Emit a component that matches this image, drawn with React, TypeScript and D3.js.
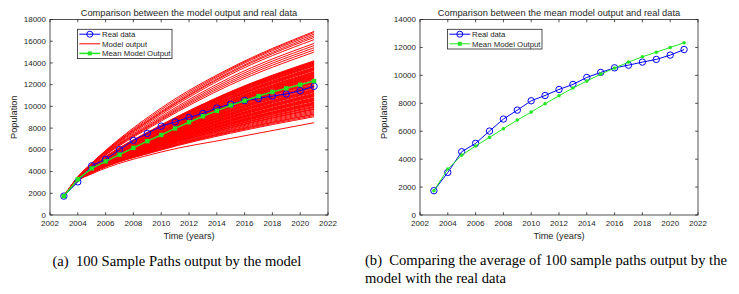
import * as d3 from "d3";

// yearly observations
const years = [2003, 2004, 2005, 2006, 2007, 2008, 2009, 2010, 2011, 2012, 2013, 2014, 2015, 2016, 2017, 2018, 2019, 2020, 2021];
const realData = [1741, 3050, 4530, 5130, 6010, 6870, 7510, 8180, 8560, 8990, 9350, 9850, 10210, 10540, 10730, 10950, 11140, 11450, 11850];
const meanModel = [1741, 3290, 4290, 4940, 5560, 6180, 6800, 7370, 7970, 8540, 9090, 9590, 10090, 10520, 10950, 11330, 11660, 12000, 12330];

// sample paths: value at 2003 is shared, rows give values at 2004, 2005, 2010, 2015, 2021
const sampleYears = [2003, 2004, 2005, 2010, 2015, 2021];
const sampleStart = 1741;
const samplePaths = [
  [3520, 4780, 9850, 13550, 16900],
  [3500, 4740, 9700, 13450, 16800],
  [3480, 4740, 9550, 13350, 16650],
  [3490, 4700, 9450, 13200, 16500],
  [3470, 4700, 9380, 13100, 16350],
  [3460, 4660, 9250, 12950, 16150],
  [3450, 4630, 9080, 12680, 15800],
  [3450, 4600, 8950, 12500, 15600],
  [3430, 4590, 8850, 12330, 15400],
  [3420, 4560, 8760, 12170, 15200],
  [3430, 4530, 8650, 12000, 15000],
  [3390, 4450, 8250, 11370, 14200],
  [3380, 4440, 8300, 11330, 14150],
  [3390, 4430, 8200, 11290, 14100],
  [3380, 4430, 8180, 11250, 14050],
  [3380, 4420, 8160, 11220, 14000],
  [3370, 4410, 8100, 11180, 13950],
  [3380, 4410, 8120, 11140, 13900],
  [3370, 4400, 8090, 11100, 13850],
  [3370, 4400, 8070, 11070, 13800],
  [3370, 4390, 8050, 11030, 13750],
  [3360, 4390, 8030, 10990, 13700],
  [3360, 4380, 7980, 10920, 13600],
  [3360, 4370, 7960, 10880, 13550],
  [3360, 4370, 7940, 10840, 13500],
  [3350, 4360, 7920, 10810, 13450],
  [3350, 4350, 7900, 10770, 13400],
  [3350, 4350, 7870, 10730, 13350],
  [3350, 4340, 7850, 10700, 13300],
  [3340, 4330, 7810, 10620, 13200],
  [3340, 4330, 7790, 10580, 13150],
  [3340, 4320, 7760, 10550, 13100],
  [3340, 4310, 7740, 10510, 13050],
  [3330, 4310, 7720, 10470, 13000],
  [3330, 4300, 7700, 10430, 12950],
  [3330, 4300, 7680, 10400, 12900],
  [3330, 4290, 7650, 10360, 12850],
  [3330, 4290, 7630, 10320, 12800],
  [3320, 4280, 7610, 10290, 12750],
  [3320, 4270, 7590, 10250, 12700],
  [3320, 4270, 7570, 10210, 12650],
  [3320, 4260, 7540, 10170, 12600],
  [3320, 4260, 7520, 10140, 12550],
  [3310, 4250, 7500, 10100, 12500],
  [3310, 4240, 7460, 10030, 12400],
  [3310, 4240, 7430, 9990, 12350],
  [3310, 4230, 7410, 9950, 12300],
  [3300, 4220, 7390, 9910, 12250],
  [3300, 4220, 7370, 9880, 12200],
  [3300, 4210, 7350, 9840, 12150],
  [3300, 4210, 7320, 9800, 12100],
  [3300, 4200, 7280, 9730, 12000],
  [3290, 4190, 7260, 9690, 11950],
  [3290, 4190, 7240, 9650, 11900],
  [3290, 4180, 7210, 9620, 11850],
  [3290, 4170, 7190, 9580, 11800],
  [3290, 4170, 7170, 9540, 11750],
  [3280, 4160, 7150, 9500, 11700],
  [3280, 4150, 7100, 9430, 11600],
  [3280, 4150, 7080, 9390, 11550],
  [3280, 4140, 7060, 9360, 11500],
  [3270, 4130, 7040, 9320, 11450],
  [3270, 4130, 7020, 9280, 11400],
  [3270, 4120, 6990, 9240, 11350],
  [3270, 4120, 6970, 9210, 11300],
  [3260, 4110, 6930, 9130, 11200],
  [3260, 4100, 6910, 9100, 11150],
  [3260, 4090, 6880, 9060, 11100],
  [3260, 4090, 6860, 9020, 11050],
  [3250, 4080, 6840, 8980, 11000],
  [3250, 4080, 6820, 8950, 10950],
  [3250, 4070, 6800, 8910, 10900],
  [3250, 4060, 6750, 8830, 10800],
  [3240, 4050, 6730, 8800, 10750],
  [3240, 4050, 6710, 8760, 10700],
  [3240, 4040, 6690, 8720, 10650],
  [3240, 4040, 6660, 8690, 10600],
  [3240, 4030, 6640, 8650, 10550],
  [3230, 4030, 6620, 8610, 10500],
  [3230, 4020, 6580, 8540, 10400],
  [3230, 4010, 6550, 8500, 10350],
  [3230, 4000, 6530, 8460, 10300],
  [3220, 4000, 6510, 8430, 10250],
  [3220, 3990, 6490, 8390, 10200],
  [3220, 3990, 6470, 8350, 10150],
  [3220, 3980, 6440, 8310, 10100],
  [3210, 3970, 6400, 8240, 10000],
  [3210, 3960, 6380, 8200, 9950],
  [3210, 3960, 6360, 8170, 9900],
  [3200, 3950, 6310, 8090, 9800],
  [3200, 3940, 6290, 8050, 9750],
  [3200, 3940, 6270, 8020, 9700],
  [3200, 3920, 6220, 7940, 9600],
  [3190, 3910, 6180, 7870, 9500],
  [3190, 3900, 6140, 7790, 9400],
  [3180, 3890, 6090, 7720, 9300],
  [3180, 3890, 6070, 7680, 9250],
  [3180, 3870, 6030, 7610, 9150],
  [3170, 3860, 5980, 7530, 9050],
  [3150, 3780, 5800, 7050, 8500],
];

const xTicks = [2002, 2004, 2006, 2008, 2010, 2012, 2014, 2016, 2018, 2020, 2022];
const leftYTicks = [0, 2000, 4000, 6000, 8000, 10000, 12000, 14000, 16000, 18000];
const rightYTicks = [0, 2000, 4000, 6000, 8000, 10000, 12000, 14000];

const AXIS = "#262626";
const BLUE = "#0000ff";
const GREEN = "#22e622";
const RED = "#ff0000";
const FONT = "'Liberation Sans', Arial, sans-serif";

type LegendItem = { label: string; kind: "real" | "model" | "mean" };

function Panel({
  left,
  yMax,
  yTicks,
  title,
  showPaths,
  legend,
}: {
  left: number;
  yMax: number;
  yTicks: number[];
  title: string;
  showPaths: boolean;
  legend: LegendItem[];
}) {
  const top = 19.5;
  const bottom = 215;
  const width = 278;
  const x = d3.scaleLinear().domain([2002, 2022]).range([left, left + width]);
  const y = d3.scaleLinear().domain([0, yMax]).range([bottom, top]);

  const line = d3
    .line<[number, number]>()
    .x((d) => x(d[0]))
    .y((d) => y(d[1]));
  const curve = d3
    .line<[number, number]>()
    .x((d) => x(d[0]))
    .y((d) => y(d[1]))
    .curve(d3.curveMonotoneX);

  const realPts = years.map((yr, i) => [yr, realData[i]] as [number, number]);
  const meanPts = years.map((yr, i) => [yr, meanModel[i]] as [number, number]);
  const big = showPaths; // left panel has larger green markers

  const tl = 2.8;
  const lgX = left + 27.5;
  const lgY = 29.3;
  const lgW = 94.5;
  const lgH = legend.length * 9.6 + 0.5;

  const drawSample = (kind: LegendItem["kind"], cx: number, cy: number) => {
    if (kind === "model")
      return <line x1={cx - 10.5} x2={cx + 10.5} y1={cy} y2={cy} stroke={RED} strokeWidth={1} />;
    if (kind === "real")
      return (
        <g>
          <line x1={cx - 10.5} x2={cx + 10.5} y1={cy} y2={cy} stroke={BLUE} strokeWidth={1} />
          <circle cx={cx} cy={cy} r={3} fill="none" stroke={BLUE} strokeWidth={1} />
        </g>
      );
    return (
      <g>
        <line x1={cx - 10.5} x2={cx + 10.5} y1={cy} y2={cy} stroke={GREEN} strokeWidth={big ? 1.5 : 1} />
        <rect x={cx - 2} y={cy - 2} width={4} height={4} fill={GREEN} />
      </g>
    );
  };

  return (
    <g fontFamily={FONT} fill={AXIS}>
      {showPaths &&
        samplePaths.map((row, i) => {
          const pts = sampleYears.map(
            (yr, j) => [yr, j === 0 ? sampleStart : row[j - 1]] as [number, number]
          );
          return <path key={i} d={curve(pts) || ""} fill="none" stroke={RED} strokeWidth={0.95} />;
        })}

      <path d={line(realPts) || ""} fill="none" stroke={BLUE} strokeWidth={1} />
      {realPts.map((d, i) => (
        <circle key={i} cx={x(d[0])} cy={y(d[1])} r={3.2} fill="none" stroke={BLUE} strokeWidth={1} />
      ))}
      <path d={line(meanPts) || ""} fill="none" stroke={GREEN} strokeWidth={big ? 1.5 : 1} />
      {meanPts.map((d, i) =>
        big ? (
          <rect key={i} x={x(d[0]) - 2.2} y={y(d[1]) - 2.2} width={4.4} height={4.4} fill={GREEN} />
        ) : (
          <circle key={i} cx={x(d[0])} cy={y(d[1])} r={1.8} fill={GREEN} />
        )
      )}

      {/* box + ticks */}
      <rect x={left} y={top} width={width} height={bottom - top} fill="none" stroke={AXIS} strokeWidth={0.8} />
      {xTicks.map((t) => (
        <g key={t}>
          <line x1={x(t)} x2={x(t)} y1={bottom} y2={bottom - tl} stroke={AXIS} strokeWidth={0.8} />
          <line x1={x(t)} x2={x(t)} y1={top} y2={top + tl} stroke={AXIS} strokeWidth={0.8} />
          <text x={x(t)} y={bottom + 10.8} textAnchor="middle" fontSize={8}>
            {t}
          </text>
        </g>
      ))}
      {yTicks.map((t) => (
        <g key={t}>
          <line x1={left} x2={left + tl} y1={y(t)} y2={y(t)} stroke={AXIS} strokeWidth={0.8} />
          <line x1={left + width - tl} x2={left + width} y1={y(t)} y2={y(t)} stroke={AXIS} strokeWidth={0.8} />
          <text x={left - 4} y={y(t) + 2.6} textAnchor="end" fontSize={8}>
            {t}
          </text>
        </g>
      ))}

      <text x={left + width / 2} y={16} textAnchor="middle" fontSize={9.3}>
        {title}
      </text>
      <text x={left + width / 2} y={238.5} textAnchor="middle" fontSize={9.2}>
        Time (years)
      </text>
      <text
        transform={`translate(${left - 33},${(top + bottom) / 2}) rotate(-90)`}
        textAnchor="middle"
        fontSize={9.2}
      >
        Population
      </text>

      {/* legend */}
      <rect x={lgX} y={lgY} width={lgW} height={lgH} fill="#fff" stroke={AXIS} strokeWidth={0.8} />
      {legend.map((item, i) => {
        const cy = lgY + 4.9 + i * 9.6;
        return (
          <g key={item.label}>
            {drawSample(item.kind, lgX + 12.3, cy)}
            <text x={lgX + 24.5} y={cy + 2.7} fontSize={7.8}>
              {item.label}
            </text>
          </g>
        );
      })}
    </g>
  );
}

export default function App() {
  return (
    <svg
      width={739}
      height={294}
      style={{ position: "absolute", left: 0, top: 0, background: "#fff" }}
    >
      <Panel
        left={50}
        yMax={18000}
        yTicks={leftYTicks}
        title="Comparison between the model output and real data"
        showPaths={true}
        legend={[
          { label: "Real data", kind: "real" },
          { label: "Model output", kind: "model" },
          { label: "Mean Model Output", kind: "mean" },
        ]}
      />
      <Panel
        left={420}
        yMax={14000}
        yTicks={rightYTicks}
        title="Comparison between the mean model output and real data"
        showPaths={false}
        legend={[
          { label: "Real data", kind: "real" },
          { label: "Mean Model Output", kind: "mean" },
        ]}
      />
      <g fontFamily="'Liberation Serif', 'Times New Roman', serif" fontSize={14.6} fill="#000">
        <text x={52.5} y={266}>
          (a)&#160;&#160;100 Sample Paths output by the model
        </text>
        <text x={365} y={265}>
          (b)&#160;&#160;Comparing the average of 100 sample paths output by the
        </text>
        <text x={365} y={282.5}>
          model with the real data
        </text>
      </g>
    </svg>
  );
}
